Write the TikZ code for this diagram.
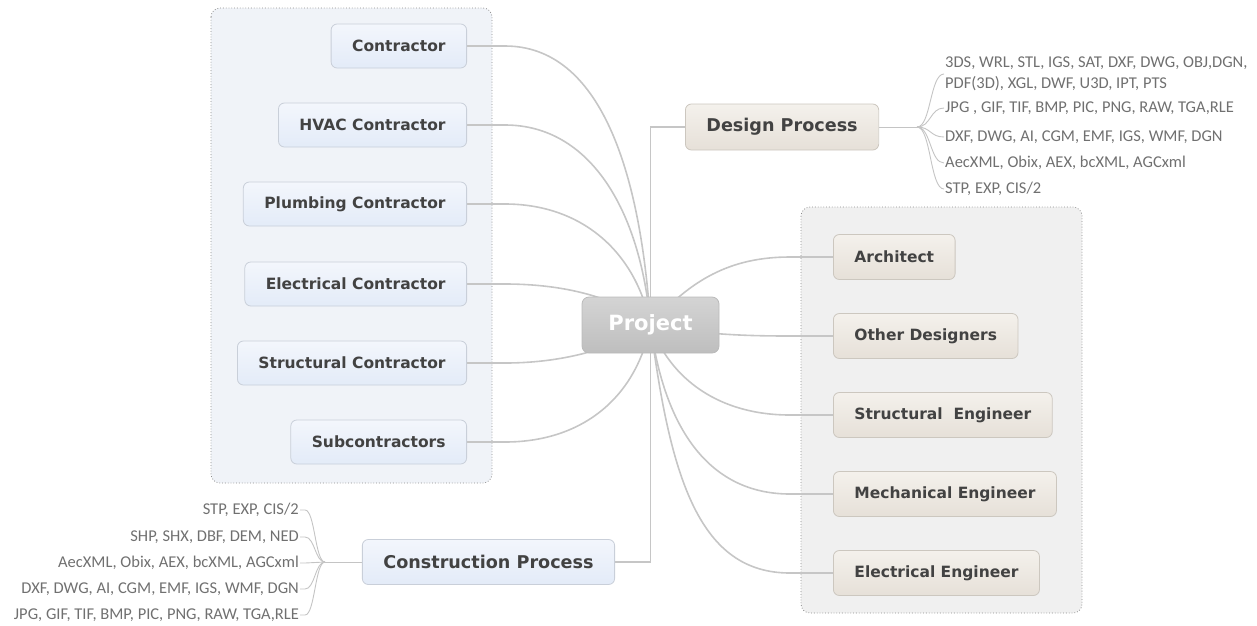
\documentclass[tikz,border=0pt]{standalone}
\usepackage{fontspec}
\setmainfont{DejaVu Sans}
\newfontfamily\carl{Carlito}
\usetikzlibrary{positioning}
\definecolor{connc}{HTML}{C6C6C6}
\definecolor{brc}{HTML}{C4C4C4}
\definecolor{blueA}{HTML}{F3F6FC}
\definecolor{blueB}{HTML}{E3EBF8}
\definecolor{blueD}{HTML}{C9CFD9}
\definecolor{beigeA}{HTML}{F4F1EC}
\definecolor{beigeB}{HTML}{E6E0D8}
\definecolor{beigeD}{HTML}{CCC7BF}
\definecolor{grpL}{HTML}{F0F3F8}
\definecolor{grpR}{HTML}{F0F0F0}
\definecolor{grpD}{HTML}{8C8C8C}
\definecolor{txt}{HTML}{424242}
\definecolor{stxt}{HTML}{707070}
\definecolor{projA}{HTML}{D4D4D4}
\definecolor{projB}{HTML}{BEBEBE}
\definecolor{projD}{HTML}{BABABA}
\pgfdeclarelayer{bg}
\pgfsetlayers{bg,main}
\tikzset{
  conn/.style={draw=connc, line width=1.6pt},
  brk/.style={draw=brc, line width=0.9pt},
  box/.style={rounded corners=6pt, line width=0.8pt, text=txt, inner xsep=21pt, minimum height=44pt,
    font=\bfseries\fontsize{15.5}{18}\selectfont},
  bluebox/.style={box, top color=blueA, bottom color=blueB, draw=blueD},
  beigebox/.style={box, top color=beigeA, bottom color=beigeB, draw=beigeD},
  bigfont/.style={font=\bfseries\fontsize{17.6}{20}\selectfont, minimum height=45pt},
  projbox/.style={rounded corners=7pt, line width=0.8pt, top color=projA, bottom color=projB, draw=projD,
    text=white, minimum width=137pt, minimum height=56pt, font=\bfseries\fontsize{21}{24}\selectfont},
  grp/.style={rounded corners=9pt, draw=grpD, dotted, line width=0.8pt},
  ftext/.style={font=\carl\fontsize{16.5}{21}\selectfont, text=stxt, inner sep=1pt},
}
\begin{document}
\begin{tikzpicture}[x=1pt,y=-1pt]
\useasboundingbox (0,0) rectangle (1257,625);
% left nodes
\node[bluebox, anchor=east] (c1) at (467,46) {Contractor};
\node[bluebox, anchor=east] (c2) at (467,125) {HVAC Contractor};
\node[bluebox, anchor=east] (c3) at (467,204) {Plumbing Contractor};
\node[bluebox, anchor=east] (c4) at (467,284) {Electrical Contractor};
\node[bluebox, anchor=east] (c5) at (467,363) {Structural Contractor};
\node[bluebox, anchor=east] (c6) at (467,442) {Subcontractors};
% right nodes
\node[beigebox, anchor=west, minimum height=45pt] (a1) at (833,257) {Architect};
\node[beigebox, anchor=west, minimum height=45pt] (a2) at (833,336) {Other Designers};
\node[beigebox, anchor=west, minimum height=45pt] (a3) at (833,415) {Structural\ \ Engineer};
\node[beigebox, anchor=west, minimum height=45pt] (a4) at (833,494) {Mechanical Engineer};
\node[beigebox, anchor=west, minimum height=45pt] (a5) at (833,573) {Electrical Engineer};
% center
\node[projbox] (P) at (650.5,325) {Project};
\node[beigebox, bigfont, anchor=west, minimum height=46pt] (D) at (685,127) {Design Process};
\node[bluebox, bigfont, anchor=east] (CP) at (615,562) {Construction Process};
% design formats
\node[ftext, anchor=west, align=left] (d1) at (944,74) {3DS, WRL, STL, IGS, SAT, DXF, DWG, OBJ,DGN,\\PDF(3D), XGL, DWF, U3D, IPT, PTS};
\node[ftext, anchor=west] (d2) at (944,108) {JPG , GIF, TIF, BMP, PIC, PNG, RAW, TGA,RLE};
\node[ftext, anchor=west] (d3) at (944,137) {DXF, DWG, AI, CGM, EMF, IGS, WMF, DGN};
\node[ftext, anchor=west] (d4) at (944,163) {AecXML, Obix, AEX, bcXML, AGCxml};
\node[ftext, anchor=west] (d5) at (944,189) {STP, EXP, CIS/2};
\coordinate (J) at (917,127);
% construction formats
\node[ftext, anchor=east] (k1) at (300,510) {STP, EXP, CIS/2};
\node[ftext, anchor=east] (k2) at (300,537) {SHP, SHX, DBF, DEM, NED};
\node[ftext, anchor=east] (k3) at (300,563) {AecXML, Obix, AEX, bcXML, AGCxml};
\node[ftext, anchor=east] (k4) at (300,589) {DXF, DWG, AI, CGM, EMF, IGS, WMF, DGN};
\node[ftext, anchor=east] (k5) at (300,615) {JPG, GIF, TIF, BMP, PIC, PNG, RAW, TGA,RLE};
\coordinate (J2) at (325,562);

\begin{pgfonlayer}{bg}
\draw[grp, fill=grpL] (211,8) rectangle (492,483);
\draw[grp, fill=grpR] (801,207) rectangle (1082,613);
% main connectors left
\draw[conn] (P.center) .. controls +(-10,-155) and +(95,0) .. ([xshift=38pt]c1.east) -- (c1.east);
\draw[conn] (P.center) .. controls +(-10,-115) and +(85,0) .. ([xshift=38pt]c2.east) -- (c2.east);
\draw[conn] (P.center) .. controls +(-15,-75) and +(75,0) .. ([xshift=38pt]c3.east) -- (c3.east);
\draw[conn] (P.center) .. controls +(-30,-25) and +(65,0) .. ([xshift=38pt]c4.east) -- (c4.east);
\draw[conn] (P.center) .. controls +(-30,20) and +(65,0) .. ([xshift=38pt]c5.east) -- (c5.east);
\draw[conn] (P.center) .. controls +(-15,75) and +(75,0) .. ([xshift=38pt]c6.east) -- (c6.east);
% main connectors right
\draw[conn] (P.center) .. controls +(40,-45) and +(-60,0) .. ([xshift=-43pt]a1.west) -- (a1.west);
\draw[conn] (P.center) .. controls +(50,9) and +(-50,0) .. ([xshift=-43pt]a2.west) -- (a2.west);
\draw[conn] (P.center) .. controls +(20,55) and +(-70,0) .. ([xshift=-43pt]a3.west) -- (a3.west);
\draw[conn] (P.center) .. controls +(14,105) and +(-80,0) .. ([xshift=-43pt]a4.west) -- (a4.west);
\draw[conn] (P.center) .. controls +(20,155) and +(-90,0) .. ([xshift=-43pt]a5.west) -- (a5.west);
% process connectors
\draw[conn] (P.center) |- (D.west);
\draw[conn] (P.center) |- (CP.east);
% brackets
\draw[brk] (D.east) -- (J);
\foreach \n in {d1,d2,d3,d4,d5} \draw[brk] (J) .. controls +(14,0) and +(-14,0) .. (\n.west);
\draw[brk] (J2) -- (CP.west);
\foreach \n in {k1,k2,k3,k4,k5} \draw[brk] (\n.east) -- +(5,0) .. controls +(10,0) and +(-10,0) .. (J2);
\end{pgfonlayer}
\end{tikzpicture}
\end{document}
